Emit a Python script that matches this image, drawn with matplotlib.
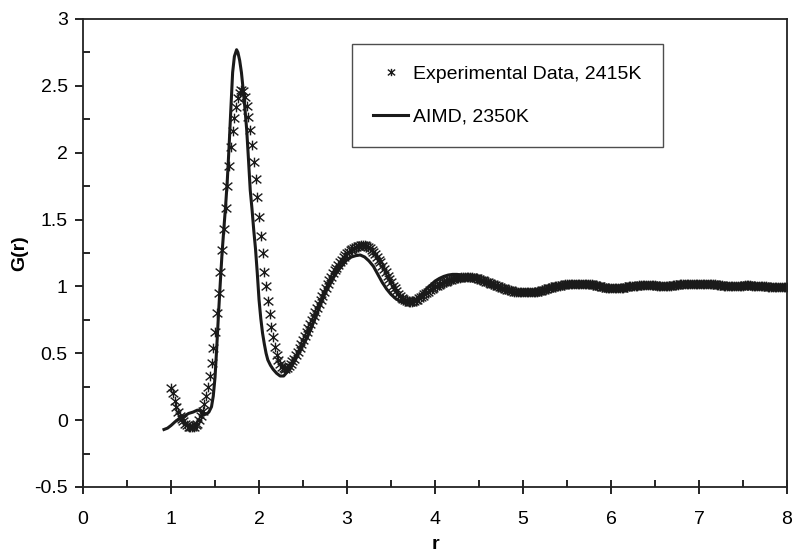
import matplotlib
matplotlib.use("Agg")
import matplotlib.pyplot as plt
import numpy as np
from matplotlib.path import Path

plt.rcParams['font.family'] = ['Liberation Sans', 'DejaVu Sans']

# experimental G(r), 2415K : r from 1.00 to 8.00 every 0.02
r_exp = np.round(np.arange(1.0, 8.0001, 0.02), 2)
g_exp = [
    0.24, 0.20, 0.14, 0.10, 0.06, 0.03, 0.01, -0.01, -0.03, -0.04,
    -0.05, -0.05, -0.05, -0.05, -0.04, -0.03, 0.00, 0.03, 0.07, 0.12,
    0.18, 0.25, 0.33, 0.43, 0.54, 0.66, 0.80, 0.95, 1.11, 1.27,
    1.43, 1.59, 1.75, 1.90, 2.04, 2.16, 2.26, 2.34, 2.41, 2.45,
    2.47, 2.46, 2.42, 2.35, 2.27, 2.17, 2.06, 1.93, 1.80, 1.67,
    1.52, 1.38, 1.25, 1.11, 1.00, 0.89, 0.79, 0.70, 0.62, 0.55,
    0.49, 0.45, 0.42, 0.40, 0.39, 0.385, 0.39, 0.405, 0.42, 0.44,
    0.46, 0.485, 0.51, 0.54, 0.57, 0.60, 0.63, 0.66, 0.69, 0.72,
    0.75, 0.78, 0.81, 0.84, 0.87, 0.90, 0.93, 0.96, 0.99, 1.02,
    1.05, 1.07, 1.10, 1.12, 1.14, 1.16, 1.18, 1.20, 1.22, 1.235,
    1.25, 1.26, 1.27, 1.28, 1.29, 1.295, 1.30, 1.305, 1.31, 1.31,
    1.31, 1.30, 1.295, 1.285, 1.27, 1.255, 1.24, 1.22, 1.20, 1.18,
    1.155, 1.13, 1.105, 1.08, 1.055, 1.03, 1.005, 0.985, 0.965, 0.945,
    0.93, 0.915, 0.905, 0.895, 0.89, 0.885, 0.885, 0.885, 0.89, 0.895,
    0.90, 0.91, 0.92, 0.93, 0.94, 0.95, 0.96, 0.97, 0.98, 0.99,
    1.00, 1.005, 1.01, 1.02, 1.025, 1.03, 1.035, 1.04, 1.045, 1.05,
    1.055, 1.06, 1.06, 1.065, 1.065, 1.07, 1.07, 1.07, 1.07, 1.07,
    1.07, 1.07, 1.065, 1.065, 1.06, 1.055, 1.05, 1.045, 1.04, 1.035,
    1.03, 1.025, 1.02, 1.015, 1.01, 1.005, 1.00, 0.995, 0.99, 0.985,
    0.98, 0.975, 0.97, 0.97, 0.965, 0.96, 0.96, 0.955, 0.955, 0.955,
    0.955, 0.955, 0.955, 0.955, 0.955, 0.96, 0.96, 0.96, 0.96, 0.965,
    0.965, 0.97, 0.975, 0.98, 0.985, 0.99, 0.99, 0.995, 1.00, 1.00,
    1.005, 1.005, 1.01, 1.01, 1.015, 1.015, 1.015, 1.02, 1.02, 1.02,
    1.02, 1.02, 1.02, 1.02, 1.02, 1.02, 1.02, 1.02, 1.015, 1.015,
    1.01, 1.01, 1.005, 1.00, 1.00, 0.995, 0.995, 0.99, 0.99, 0.99,
    0.99, 0.99, 0.99, 0.99, 0.99, 0.99, 0.99, 0.99, 0.995, 0.995,
    1.00, 1.00, 1.00, 1.005, 1.005, 1.005, 1.01, 1.01, 1.01, 1.01,
    1.01, 1.01, 1.01, 1.01, 1.01, 1.01, 1.005, 1.005, 1.005, 1.005,
    1.005, 1.005, 1.005, 1.005, 1.005, 1.01, 1.01, 1.01, 1.01, 1.015,
    1.015, 1.015, 1.015, 1.015, 1.015, 1.02, 1.02, 1.02, 1.02, 1.02,
    1.02, 1.02, 1.02, 1.02, 1.02, 1.02, 1.02, 1.015, 1.015, 1.015,
    1.01, 1.01, 1.01, 1.01, 1.005, 1.005, 1.005, 1.005, 1.005, 1.005,
    1.005, 1.005, 1.005, 1.005, 1.005, 1.005, 1.01, 1.01, 1.01, 1.01,
    1.005, 1.005, 1.005, 1.00, 1.00, 1.00, 1.00, 1.00, 1.00, 0.995,
    0.995, 0.995, 0.995, 0.995, 0.995, 0.995, 0.995, 0.995, 0.995, 0.995,
    0.995,
]

# AIMD G(r), 2350K
r_aimd = [
    0.92, 0.96, 1.00, 1.05, 1.10, 1.15, 1.20, 1.25, 1.30, 1.33,
    1.37, 1.40, 1.43, 1.46, 1.48, 1.50, 1.52, 1.54, 1.56, 1.58,
    1.60, 1.62, 1.64, 1.66, 1.68, 1.70, 1.72, 1.745, 1.76, 1.78,
    1.80, 1.82, 1.84, 1.86, 1.88, 1.90, 1.92, 1.94, 1.96, 1.98,
    2.00, 2.02, 2.04, 2.06, 2.08, 2.10, 2.13, 2.16, 2.20, 2.24,
    2.28, 2.32, 2.36, 2.40, 2.45, 2.50, 2.55, 2.60, 2.65, 2.70,
    2.75, 2.80, 2.85, 2.90, 2.95, 3.00, 3.05, 3.10, 3.15, 3.20,
    3.25, 3.30, 3.35, 3.40, 3.45, 3.50, 3.55, 3.60, 3.65, 3.70,
    3.75, 3.80, 3.85, 3.90, 3.95, 4.00, 4.05, 4.10, 4.15, 4.20,
    4.25, 4.30, 4.35, 4.40, 4.50, 4.60, 4.70, 4.80, 4.90, 5.00,
    5.10, 5.20, 5.30, 5.40, 5.50, 5.60, 5.70, 5.80, 5.90, 6.00,
    6.20, 6.40, 6.60, 6.80, 7.00, 7.20, 7.40, 7.60, 7.80, 8.00,
]
g_aimd = [
    -0.07, -0.06, -0.04, -0.01, 0.01, 0.03, 0.05, 0.06, 0.075, 0.07,
    0.04, 0.045, 0.06, 0.10, 0.18, 0.32, 0.55, 0.80, 1.03, 1.25,
    1.43, 1.60, 1.80, 2.05, 2.33, 2.60, 2.72, 2.77, 2.75, 2.69,
    2.60, 2.47, 2.33, 2.17, 1.95, 1.72, 1.58, 1.42, 1.28, 1.10,
    0.90, 0.76, 0.65, 0.57, 0.50, 0.45, 0.41, 0.38, 0.35, 0.33,
    0.33, 0.36, 0.39, 0.44, 0.50, 0.56, 0.62, 0.70, 0.78, 0.87,
    0.95, 1.01, 1.07, 1.12, 1.16, 1.20, 1.22, 1.23, 1.235, 1.22,
    1.19, 1.15, 1.09, 1.03, 0.98, 0.94, 0.91, 0.89, 0.88, 0.88,
    0.89, 0.91, 0.94, 0.98, 1.01, 1.04, 1.06, 1.075, 1.085, 1.09,
    1.09, 1.085, 1.08, 1.07, 1.05, 1.02, 0.99, 0.97, 0.955, 0.95,
    0.955, 0.965, 0.98, 1.00, 1.01, 1.015, 1.015, 1.01, 1.00, 0.995,
    0.995, 1.005, 1.005, 1.01, 1.015, 1.01, 1.005, 1.00, 0.995, 0.995,
]

# asterisk marker: x with a vertical stroke
star = Path([(-1, -0.8), (1, 0.8), (-1, 0.8), (1, -0.8), (0, -1), (0, 1)],
            [Path.MOVETO, Path.LINETO, Path.MOVETO, Path.LINETO, Path.MOVETO, Path.LINETO])

fig = plt.figure(figsize=(7.93, 5.52), dpi=100)
ax = fig.add_axes([0.1047, 0.1178, 0.8878, 0.8478])

ax.plot(r_exp, g_exp, linestyle='none', marker=star, markersize=7,
        markeredgewidth=1.0, markeredgecolor='#1a1a1a', markerfacecolor='none',
        label='Experimental Data, 2415K')
ax.plot(r_aimd, g_aimd, color='#1a1a1a', linewidth=2.2, label='AIMD, 2350K')

ax.set_xlim(0, 8)
ax.set_ylim(-0.5, 3)
ax.set_xticks(np.arange(0, 9, 1))
ax.set_xticks(np.arange(0.5, 8, 1), minor=True)
ax.set_yticks(np.arange(-0.5, 3.01, 0.5))
ax.set_yticklabels(['-0.5', '0', '0.5', '1', '1.5', '2', '2.5', '3'])
ax.set_yticks(np.arange(-0.25, 3, 0.5), minor=True)

ax.tick_params(axis='x', which='major', direction='inout', length=10, width=1.2,
               labelsize=14, pad=12)
ax.tick_params(axis='x', which='minor', direction='in', length=5, width=1.2)
ax.tick_params(axis='y', which='major', direction='out', length=6, width=1.2,
               labelsize=14, pad=5)
ax.tick_params(axis='y', which='minor', direction='in', length=5, width=1.2)
for s in ax.spines.values():
    s.set_linewidth(1.3)
    s.set_color('#222222')

ax.set_xlabel('r', fontsize=14, fontweight='bold', labelpad=6)
ax.set_ylabel('G(r)', fontsize=14, fontweight='bold', labelpad=4)

leg = ax.legend(loc='upper left', bbox_to_anchor=(0.382, 0.947), fontsize=14,
                frameon=True, fancybox=False, edgecolor='#222222',
                borderpad=1.1, labelspacing=1.3, handlelength=1.8,
                handletextpad=0.25, markerscale=0.75, borderaxespad=0)
leg.get_frame().set_linewidth(1.0)

fig.savefig('out.png', dpi=100)
